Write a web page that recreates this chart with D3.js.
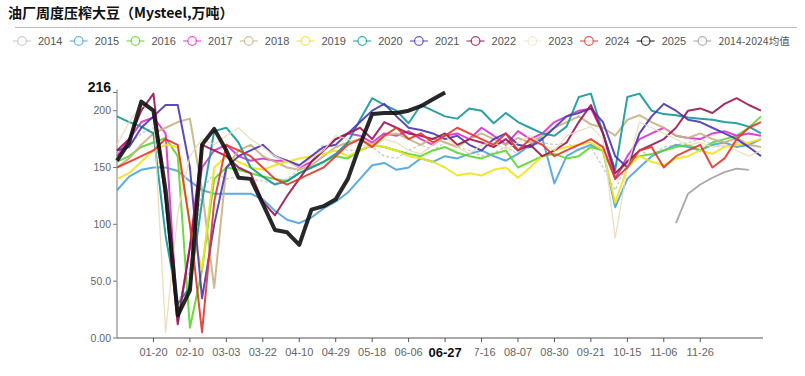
<!DOCTYPE html>
<html>
<head>
<meta charset="utf-8">
<script src="https://cdn.jsdelivr.net/npm/d3@7"></script>
<style>
  body { margin: 0; background: #fff; }
  svg { display: block; font-family: "Liberation Sans", Arial, sans-serif; }
</style>
</head>
<body>
<div id="container"></div>
<script>
/* DATA */
const categories = [
  "01-01","01-07","01-13","01-20","01-27","02-03","02-10","02-17","02-24",
  "03-03","03-09","03-15","03-22","03-28","04-04","04-10","04-17","04-23",
  "04-29","05-06","05-12","05-18","05-25","05-31","06-06","06-13","06-20",
  "06-27","07-04","07-10","07-16","07-23","07-30","08-07","08-14","08-22",
  "08-30","09-06","09-13","09-21","09-29","10-07","10-15","10-22","10-29",
  "11-06","11-13","11-19","11-26","12-03","12-10","12-17","12-24","12-31"
];
const tickLabels = ["01-20","02-10","03-03","03-22","04-10","04-29","05-18","06-06",
                    "06-27","07-16","08-07","08-30","09-21","10-15","11-06","11-26"];
const currentLabel = "06-27";
const yTicks = [0, 50, 100, 150, 200];
const yMax = 216;

const seriesNames = ["2014","2015","2016","2017","2018","2019","2020","2021",
                     "2022","2023","2024","2025","2014-2024均值"];

const s2014 = [160,170,180,185,120,30, 60,130,145,140,142,140, 138,136,140,148,160,170,
               168,165,165,168,160,158, 165,170,165,172,168,165, 160,163,168,162,168,172,
               170,172,165,168,150,130, 155,165,160,168,170,172, 175,170,168,172,170,168];
const s2015 = [130,142,148,150,150,147, 138,130,127,127,127,127, 122,112,104,101,106,114,
               120,128,140,152,154,148, 150,158,155,160,158,162, 165,160,156,162,170,176,
               136,160,166,170,165,115, 140,150,160,165,170,168, 165,170,172,168,170,175];
const s2016 = [155,160,168,172,176,160, 9,60,140,150,148,145, 142,140,138,145,150,155,
               160,158,165,170,168,165, 162,160,165,168,163,160, 158,162,165,150,155,160,
               162,158,160,168,165,141, 156,160,162,165,168,170, 165,172,175,178,185,195];
const s2017 = [160,175,190,194,180,15, 80,150,165,170,160,156, 158,156,156,150,155,165,
               175,180,178,172,180,178, 182,175,170,178,180,175, 185,178,170,182,175,180,
               190,195,200,202,180,140, 160,175,180,185,178,176, 175,180,182,178,180,178];
const s2018 = [150,158,170,180,185,190, 193,130,44,150,165,170, 160,155,150,148,152,160,
               168,172,175,170,178,180, 175,170,176,172,168,175, 180,175,170,176,172,178,
               185,190,195,188,185,178, 192,196,190,185,178,176, 180,175,172,176,170,168];
const s2019 = [140,145,155,165,170,168, 100,60,150,160,155,150, 148,152,155,158,160,162,
               165,160,165,170,168,165, 160,158,155,150,143,145, 143,148,150,141,150,160,
               165,168,170,172,165,119, 150,160,155,152,158,160, 165,162,168,170,172,175];
const s2020 = [195,190,186,180,90,30, 45,120,182,185,172,150, 142,135,138,145,150,155,
               162,172,192,211,205,200, 189,205,200,195,193,202, 200,189,198,190,185,180,
               178,186,212,215,180,148, 212,215,200,197,196,194, 193,192,190,189,186,180];
const s2021 = [165,168,185,195,205,205, 150,35,100,150,160,165, 170,160,156,152,160,168,
               170,180,190,200,206,195, 185,183,180,175,178,170, 165,175,180,170,168,175,
               185,195,198,202,190,160, 150,180,195,206,200,192, 190,185,180,175,168,160];
const s2022 = [165,175,200,215,120,12, 80,170,165,160,150,145, 120,108,125,140,155,165,
               175,180,185,175,190,185, 180,178,175,180,170,175, 172,168,175,165,170,160,
               165,172,190,205,180,145, 155,165,170,175,185,200, 202,198,206,211,205,200];
const s2023 = [170,190,205,200,5,110, 160,175,170,178,185,175, 168,160,155,150,158,165,
               178,175,170,168,175,172, 165,162,170,178,168,162, 170,172,166,172,178,170,
               165,178,182,186,175,88, 150,190,185,180,175,170, 172,168,170,165,160,165];
const s2024 = [150,155,160,165,175,170, 100,5,120,170,165,160, 150,140,135,140,145,150,
               160,170,175,168,178,185, 175,180,172,178,185,180, 175,170,180,165,175,170,
               160,165,170,175,168,140, 150,165,168,150,160,165, 170,150,158,175,185,190];
const s2025 = [156,172,208,200,130,20, 42,170,184,165,141,140, 118,95,93,82,113,116,
               122,140,170,197,198,198, 200,204,210,216];
const sAvg  = [null,null,null,null,null,null, null,null,null,null,null,null,
               null,null,null,null,null,null, null,null,null,null,null,null,
               null,null,null,null,null,null, null,null,null,null,null,null,
               null,null,null,null,null,null, null,null,null,null,101,127,
               135,141,146,149,148,null];

const seriesValues = [s2014,s2015,s2016,s2017,s2018,s2019,s2020,s2021,s2022,s2023,s2024,s2025,sAvg];

/* STYLES */
const colors = {
  "2014": "#c4c4c4", "2015": "#4da3df", "2016": "#5cd62c", "2017": "#dc2fd2",
  "2018": "#c8b283", "2019": "#f2e21a", "2020": "#13979a", "2021": "#4a36b4",
  "2022": "#9c1450", "2023": "#e9dcb8", "2024": "#e2362c", "2025": "#111111",
  "2014-2024均值": "#a0a0a0"
};
const widths = { "2014": 1.3, "2023": 1.3, "2025": 4, "2014-2024均值": 1.8 };
const dashes = { "2014": "3,2" };

const width = 805, height = 376;
const margin = { top: 92.5, bottom: 38, left: 117, right: 44 };

const svg = d3.select("#container")
  .append("svg")
  .attr("width", width)
  .attr("height", height);

// title + rule
svg.append("text")
  .attr("x", 8)
  .attr("y", 18)
  .attr("font-family", "'Noto Sans CJK SC', sans-serif")
  .attr("font-weight", "bold")
  .attr("font-size", 14)
  .attr("fill", "#111")
  .text("油厂周度压榨大豆（Mysteel,万吨）");

svg.append("line")
  .attr("x1", 15).attr("x2", 797)
  .attr("y1", 27.5).attr("y2", 27.5)
  .attr("stroke", "#bdbdbd");

// legend
const legend = svg.append("g")
  .selectAll("g")
  .data(seriesNames)
  .join("g")
  .attr("transform", (d, i) => `translate(${22 + i * 56.7}, 41)`);

legend.append("line")
  .attr("x1", -9).attr("x2", 9)
  .attr("stroke", d => colors[d])
  .attr("stroke-width", 1.2)
  .attr("opacity", d => d === "2023" ? 0.5 : 0.8);
legend.append("circle")
  .attr("r", 4.3)
  .attr("fill", "#fff")
  .attr("stroke", d => colors[d])
  .attr("stroke-width", 1.2)
  .attr("opacity", d => d === "2023" ? 0.5 : 0.8);
legend.append("text")
  .attr("x", 16)
  .attr("y", 4)
  .attr("fill", "#555")
  .attr("font-family", d => d.length > 4 ? "'Noto Sans CJK SC', sans-serif" : null)
  .attr("font-size", d => d.length > 4 ? 10.5 : 11)
  .text(d => d);

// SCALES
const x = d3.scalePoint()
  .domain(categories)
  .range([margin.left, width - margin.right]);

const y = d3.scaleLinear()
  .domain([0, yMax])
  .range([height - margin.bottom, margin.top]);

// y axis
svg.append("line")
  .attr("x1", margin.left).attr("x2", margin.left)
  .attr("y1", y(yMax) - 3).attr("y2", y(0))
  .attr("stroke", "#777");

const yAxisTicks = yTicks.concat([yMax]);
svg.selectAll(".ytick")
  .data(yAxisTicks)
  .join("line")
  .attr("class", "ytick")
  .attr("x1", margin.left - 4).attr("x2", margin.left)
  .attr("y1", d => y(d)).attr("y2", d => y(d))
  .attr("stroke", "#777");

svg.selectAll(".ylab")
  .data(yAxisTicks)
  .join("text")
  .attr("class", "ylab")
  .attr("x", margin.left - 6)
  .attr("y", d => d === yMax ? y(d) - 1 : y(d) + 3.5)
  .attr("text-anchor", "end")
  .attr("font-size", d => d === yMax ? 14 : 10.5)
  .attr("font-weight", d => d === yMax ? "bold" : null)
  .attr("fill", d => d === yMax ? "#111" : "#666")
  .text(d => d === yMax ? d : d3.format(".3r")(d));

// x axis
svg.append("line")
  .attr("x1", margin.left).attr("x2", width - margin.right + 2)
  .attr("y1", y(0)).attr("y2", y(0))
  .attr("stroke", "#555");

svg.selectAll(".xtick")
  .data(tickLabels)
  .join("line")
  .attr("class", "xtick")
  .attr("x1", d => x(d)).attr("x2", d => x(d))
  .attr("y1", y(0)).attr("y2", y(0) + 4)
  .attr("stroke", "#555");

svg.selectAll(".xlab")
  .data(tickLabels.filter(d => d !== currentLabel))
  .join("text")
  .attr("class", "xlab")
  .attr("x", d => x(d))
  .attr("y", 356)
  .attr("text-anchor", "middle")
  .attr("font-size", 11)
  .attr("fill", "#666")
  .text(d => d);

// current week label, bold, on a white box that covers part of the next label
svg.append("rect")
  .attr("x", x(currentLabel) - 18)
  .attr("y", 343)
  .attr("width", 48)
  .attr("height", 17)
  .attr("fill", "#fff");
svg.append("text")
  .attr("x", x(currentLabel))
  .attr("y", 357)
  .attr("text-anchor", "middle")
  .attr("font-size", 13)
  .attr("font-weight", "bold")
  .attr("fill", "#111")
  .text(currentLabel);

// LINES
const lineGen = d3.line()
  .defined(d => d.v != null)
  .x(d => x(d.c))
  .y(d => y(d.v));

svg.append("g")
  .selectAll("path")
  .data(seriesNames.map((name, k) => ({
    name,
    points: seriesValues[k].map((v, i) => ({ c: categories[i], v }))
  })))
  .join("path")
  .attr("d", d => lineGen(d.points))
  .attr("fill", "none")
  .attr("stroke", d => colors[d.name])
  .attr("stroke-width", d => widths[d.name] || 2)
  .attr("stroke-dasharray", d => dashes[d.name] || null)
  .attr("stroke-linejoin", "round")
  .attr("stroke-opacity", 0.9);
</script>
</body>
</html>
